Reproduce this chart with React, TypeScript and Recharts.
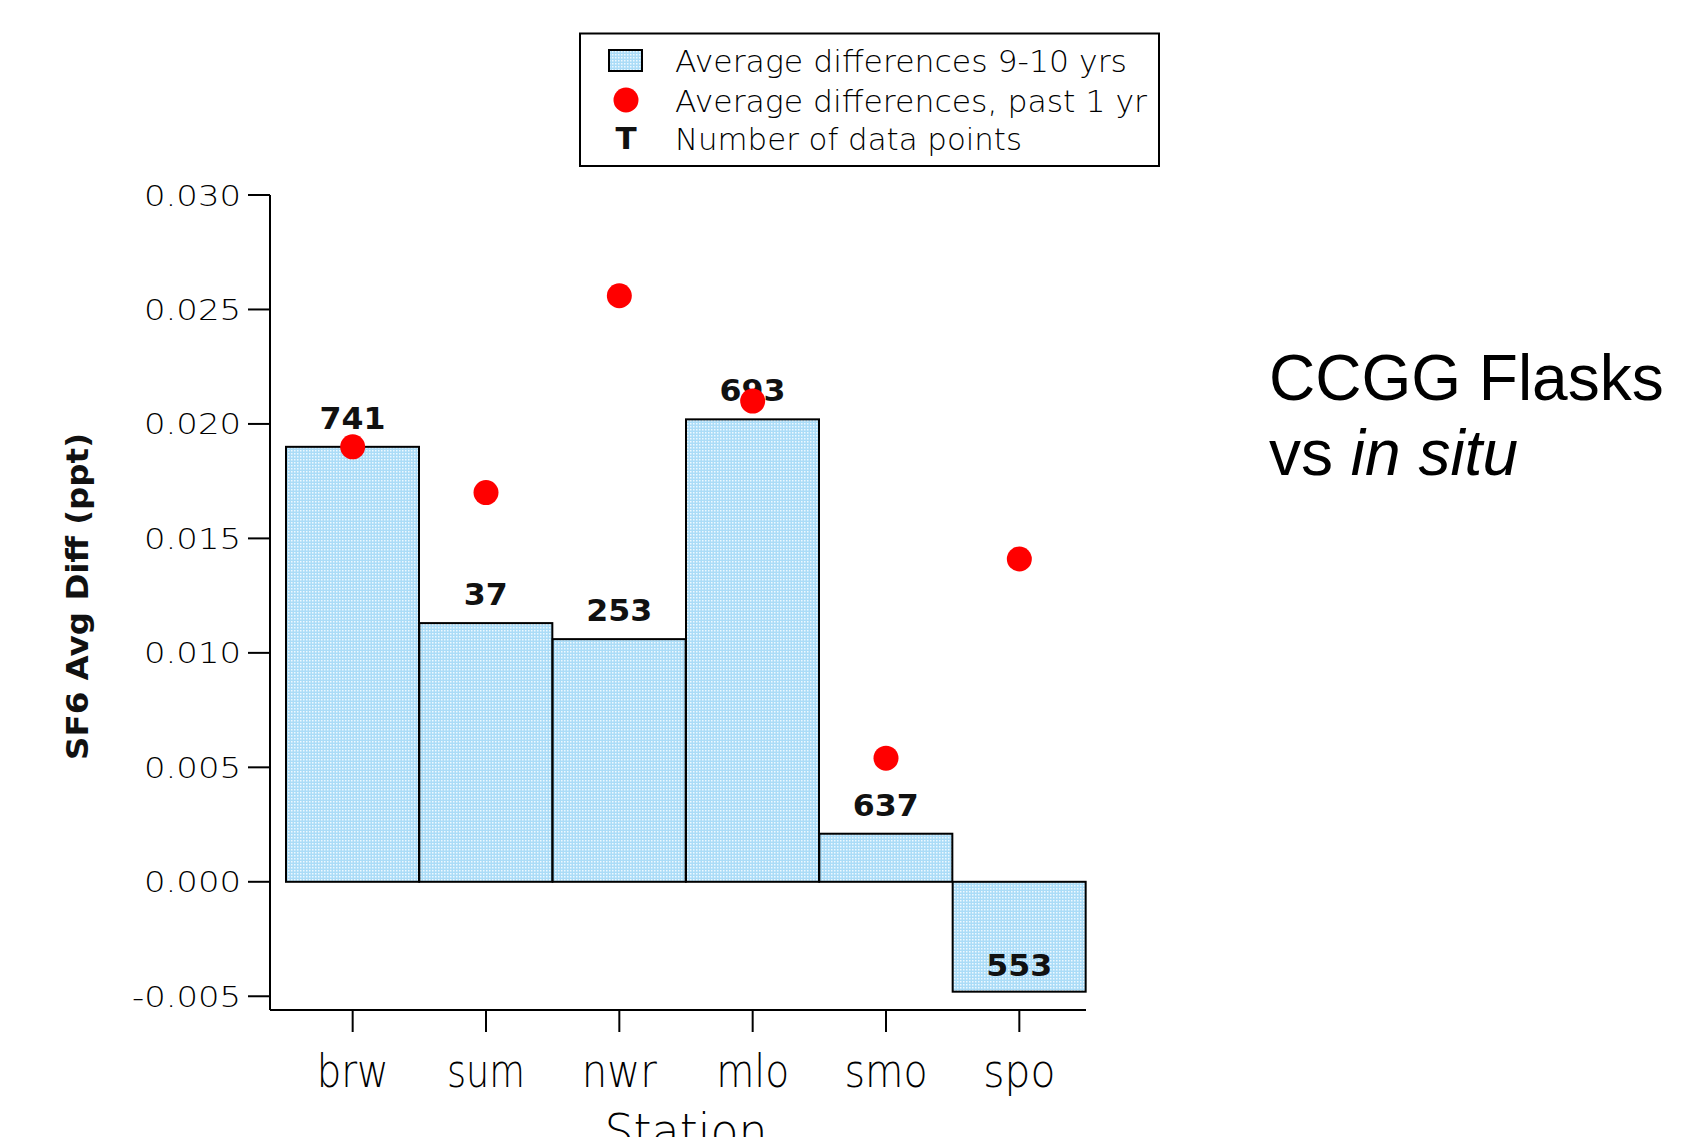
import React from 'react';
import { ComposedChart, Bar, Scatter, XAxis, YAxis, Label, Customized } from 'recharts';

// Station codes along the x axis
const stations = ['brw', 'sum', 'nwr', 'mlo', 'smo', 'spo'];
// Average flask minus in situ SF6 difference over 9-10 years (ppt)
const avgDiff10yr = [0.019, 0.0113, 0.0106, 0.0202, 0.0021, -0.0048];
// Average difference over the past year (ppt)
const avgDiffPastYear = [0.019, 0.017, 0.0256, 0.021, 0.0054, 0.0141];
// Number of paired data points per station
const pointCounts = [741, 37, 253, 693, 637, 553];
// Y axis tick values
const yTicks = [-0.005, 0, 0.005, 0.01, 0.015, 0.02, 0.025, 0.03];

const data = stations.map((station, i) => ({
  station,
  avg10: avgDiff10yr[i],
  avg1: avgDiffPastYear[i],
  n: pointCounts[i],
}));

const W = 1682;
const H = 1137;
const MAC_FONT = '"DejaVu Sans", Verdana, sans-serif';
const HELV = '"Liberation Sans", Arial, Helvetica, sans-serif';

// widths of the stretched station labels
const stationLabelWidth: Record<string, number> = {
  brw: 72, sum: 78, nwr: 75, mlo: 73, smo: 83, spo: 72,
};

function tickTextWidth(s: string) {
  let w = 0;
  for (const ch of s) {
    if (ch === '.') w += 9;
    else if (ch === '-') w += 12;
    else w += 22;
  }
  return w;
}

function BarWithCount(props: any) {
  const { x, y, width, height, payload } = props;
  const top = Math.min(y, y + height);
  const bottom = Math.max(y, y + height);
  const positive = payload.avg10 >= 0;
  const end = positive ? top : bottom;
  const label = String(payload.n);
  return (
    <g>
      <rect
        x={x}
        y={top}
        width={width}
        height={bottom - top}
        fill="url(#hatchBlue)"
        stroke="#000"
        strokeWidth={2}
      />
      <text
        x={x + width / 2}
        y={end - (positive ? 18 : 16)}
        textAnchor="middle"
        fontFamily={MAC_FONT}
        fontWeight="bold"
        fontSize={30}
        textLength={label.length * 22}
        lengthAdjust="spacingAndGlyphs"
        fill="#111"
      >
        {label}
      </text>
    </g>
  );
}

function Dot(props: any) {
  const { cx, cy } = props;
  return <circle cx={cx} cy={cy} r={12.5} fill="#ff0000" />;
}

function YTick(props: any) {
  const { x, y, payload } = props;
  const s = Number(payload.value).toFixed(3);
  return (
    <text
      x={x}
      y={y + 10.5}
      textAnchor="end"
      fontFamily={MAC_FONT}
      fontWeight={300}
      fontSize={28}
      textLength={tickTextWidth(s)}
      lengthAdjust="spacingAndGlyphs"
      fill="#000"
    >
      {s}
    </text>
  );
}

function XTick(props: any) {
  const { x, y, payload } = props;
  return (
    <text
      x={x}
      y={y + 55}
      textAnchor="middle"
      fontFamily={MAC_FONT}
      fontWeight={300}
      fontSize={46}
      textLength={stationLabelWidth[payload.value] ?? 75}
      lengthAdjust="spacingAndGlyphs"
      fill="#000"
    >
      {payload.value}
    </text>
  );
}

function LegendBox() {
  return (
    <g>
      <defs>
        <pattern id="hatchBlue" width={3} height={3} patternUnits="userSpaceOnUse">
          <rect x={0} y={0} width={3} height={3} fill="#abdcf7" />
          <rect x={0} y={0} width={1.5} height={1.5} fill="#eef9ff" />
        </pattern>
      </defs>
      <rect x={580} y={33.5} width={579} height={132.5} fill="#fff" stroke="#000" strokeWidth={2} />
      <rect x={609} y={50} width={33} height={21} fill="url(#hatchBlue)" stroke="#000" strokeWidth={2} />
      <circle cx={626} cy={100} r={12.5} fill="#ff0000" />
      <text x={626} y={149} textAnchor="middle" fontFamily={MAC_FONT} fontWeight="bold" fontSize={31} fill="#111">
        T
      </text>
      <text x={675} y={71.5} fontFamily={MAC_FONT} fontWeight={300} fontSize={31} textLength={452} lengthAdjust="spacingAndGlyphs" fill="#000">
        Average differences 9-10 yrs
      </text>
      <text x={675} y={111.5} fontFamily={MAC_FONT} fontWeight={300} fontSize={31} textLength={472} lengthAdjust="spacingAndGlyphs" fill="#000">
        Average differences, past 1 yr
      </text>
      <text x={675} y={150} fontFamily={MAC_FONT} fontWeight={300} fontSize={31} textLength={347} lengthAdjust="spacingAndGlyphs" fill="#000">
        Number of data points
      </text>
      <text x={1269} y={400} fontFamily={HELV} fontSize={64} fill="#000">
        CCGG Flasks
      </text>
      <text x={1269} y={475} fontFamily={HELV} fontSize={64} fill="#000">
        vs <tspan fontStyle="italic">in situ</tspan>
      </text>
    </g>
  );
}

export default function App() {
  return (
    <div style={{ position: 'absolute', left: 0, top: 0, width: W, height: H, background: '#fff', overflow: 'hidden' }}>
      <ComposedChart
        width={W}
        height={H}
        data={data}
        margin={{ top: 195, right: 596, bottom: 67, left: 170 }}
        barCategoryGap={0}
        barGap={0}
      >
        <Customized component={LegendBox} />
        <XAxis
          dataKey="station"
          padding={{ left: 16, right: 0 }}
          height={60}
          interval={0}
          tickSize={22}
          tickMargin={0}
          axisLine={{ stroke: '#000', strokeWidth: 2 }}
          tickLine={{ stroke: '#000', strokeWidth: 2 }}
          tick={<XTick />}
        >
          <Label
            content={(p: any) => {
              const vb = p.viewBox;
              return (
                <text
                  x={vb.x + vb.width / 2 + 8}
                  y={1148}
                  textAnchor="middle"
                  fontFamily={MAC_FONT}
                  fontWeight={300}
                  fontSize={48}
                  textLength={163}
                  lengthAdjust="spacingAndGlyphs"
                  fill="#000"
                >
                  Station
                </text>
              );
            }}
          />
        </XAxis>
        <YAxis
          type="number"
          domain={[-0.0056, 0.03]}
          allowDataOverflow
          ticks={yTicks}
          interval={0}
          width={100}
          tickSize={22}
          tickMargin={7}
          axisLine={{ stroke: '#000', strokeWidth: 2 }}
          tickLine={{ stroke: '#000', strokeWidth: 2 }}
          tick={<YTick />}
        >
          <Label
            content={(p: any) => {
              const vb = p.viewBox;
              const cx = vb.x - 82;
              const cy = 596.5;
              return (
                <text
                  x={cx}
                  y={cy}
                  transform={`rotate(-90, ${cx}, ${cy})`}
                  textAnchor="middle"
                  fontFamily={MAC_FONT}
                  fontWeight="bold"
                  fontSize={31}
                  textLength={327}
                  lengthAdjust="spacingAndGlyphs"
                  fill="#111"
                >
                  SF6 Avg Diff (ppt)
                </text>
              );
            }}
          />
        </YAxis>
        <Bar dataKey="avg10" shape={<BarWithCount />} isAnimationActive={false} />
        <Scatter dataKey="avg1" shape={<Dot />} isAnimationActive={false} />
      </ComposedChart>
    </div>
  );
}
